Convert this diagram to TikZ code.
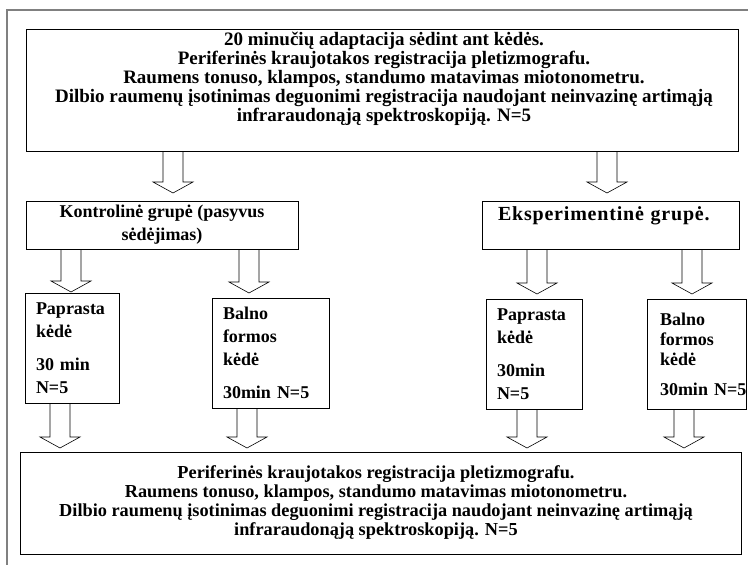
\documentclass[tikz,border=0pt]{standalone}
\usepackage{fontspec}
\setmainfont{Liberation Serif}
\usetikzlibrary{calc}

\tikzset{
  box/.style={draw, line width=0.8pt, outer sep=0pt, inner sep=0pt, anchor=north west,
    font=\bfseries\fontsize{18}{23}\selectfont},
  smallbox/.style={box, align=left, inner xsep=11pt, minimum height=110pt},
  boxtext/.style={font=\bfseries\fontsize{#1}{19}\selectfont, align=center},
  boxtext/.default=19,
  flowarrow/.style={line width=0.6pt, to path={let \p1=(\tikztostart), \p2=(\tikztotarget) in
    (\x1-10pt,\y1) -- (\x1-10pt,\y2+#1+11pt) -- (\x1-20pt,\y2+#1+11pt) -- (\x1,\y2+#1)
    -- (\x1+20pt,\y2+#1+11pt) -- (\x1+10pt,\y2+#1+11pt) -- (\x1+10pt,\y1)}},
  flowarrow/.default=4pt
}

\begin{document}
\begin{tikzpicture}[x=1pt,y=-1pt]
  \useasboundingbox (0,0) rectangle (748,565);
  \draw[gray, line width=1.3pt] (748,10) -- (7,10) -- (7,565);

  % Top part of the Figure
  \node[box, minimum width=712pt, minimum height=122pt] (top) at (26,29) {};
  \node[boxtext] (toptext) at (384,79) {20 minučių adaptacija sėdint ant kėdės.\\
    Periferinės kraujotakos registracija pletizmografu.\\
    Raumens tonuso, klampos, standumo matavimas miotonometru.\\
    Dilbio raumenų įsotinimas deguonimi registracija naudojant neinvazinę artimąją\\
    infraraudonąją spektroskopiją. N=5};

  % Groups
  \node[box, minimum width=272pt, minimum height=48pt, align=center] (kontr) at (26,201)
    {Kontrolinė grupė (pasyvus\\sėdėjimas)};
  \node[box, minimum height=48pt, align=left, inner xsep=16pt, text width=225pt,
    font=\bfseries\fontsize{20}{23}\selectfont\addfontfeature{LetterSpace=4}] (exper) at (482,201)
    {Eksperimentinė grupė.\\\mbox{}};
  \draw[flowarrow=8pt] ([xshift=-209pt]top.south) to (kontr.north);
  \draw[flowarrow=8pt] ([xshift=225pt]top.south) to (exper.north);

  % Chairs
  \node[smallbox, text width=72pt] (pap1) at (25,293) {Paprasta\\kėdė\\[10pt]30 min\\N=5};
  \node[smallbox, text width=95pt] (bal1) at (212,298) {Balno\\formos\\kėdė\\[10pt]30min N=5};
  \node[smallbox, text width=74pt] (pap2) at (486,299) {Paprasta\\kėdė\\[10pt]30min\\N=5};
  \node[smallbox, text width=73pt, inner xsep=13pt, font=\bfseries\fontsize{18}{20}\selectfont]
    (bal2) at (647,299) {Balno\\formos\\kėdė\\[10pt]30min~N=5};
  \draw[flowarrow=1pt] ([xshift=-91pt]kontr.south) to (pap1.north);
  \draw[flowarrow=5pt] ([xshift=87pt]kontr.south) to (bal1.north);
  \draw[flowarrow=5pt] ([xshift=-73.5pt]exper.south) to (pap2.north);
  \draw[flowarrow=5pt] ([xshift=81.5pt]exper.south) to (bal2.north);

  % Bottom part of the Figure
  \node[box, minimum width=721pt, minimum height=102pt] (bottom) at (20,452) {};
  \node[boxtext=18.3] (bottomtext) at (376,503) {Periferinės kraujotakos registracija pletizmografu.\\
    Raumens tonuso, klampos, standumo matavimas miotonometru.\\
    Dilbio raumenų įsotinimas deguonimi registracija naudojant neinvazinę artimąją\\
    infraraudonąją spektroskopiją. N=5};
  \draw[flowarrow] ([xshift=-12pt]pap1.south) to (bottom.north);
  \draw[flowarrow] ([xshift=-23.5pt]bal1.south) to (bottom.north);
  \draw[flowarrow] ([xshift=-7pt]pap2.south) to (bottom.north);
  \draw[flowarrow] ([xshift=-12.5pt]bal2.south) to (bottom.north);
\end{tikzpicture}
\end{document}
